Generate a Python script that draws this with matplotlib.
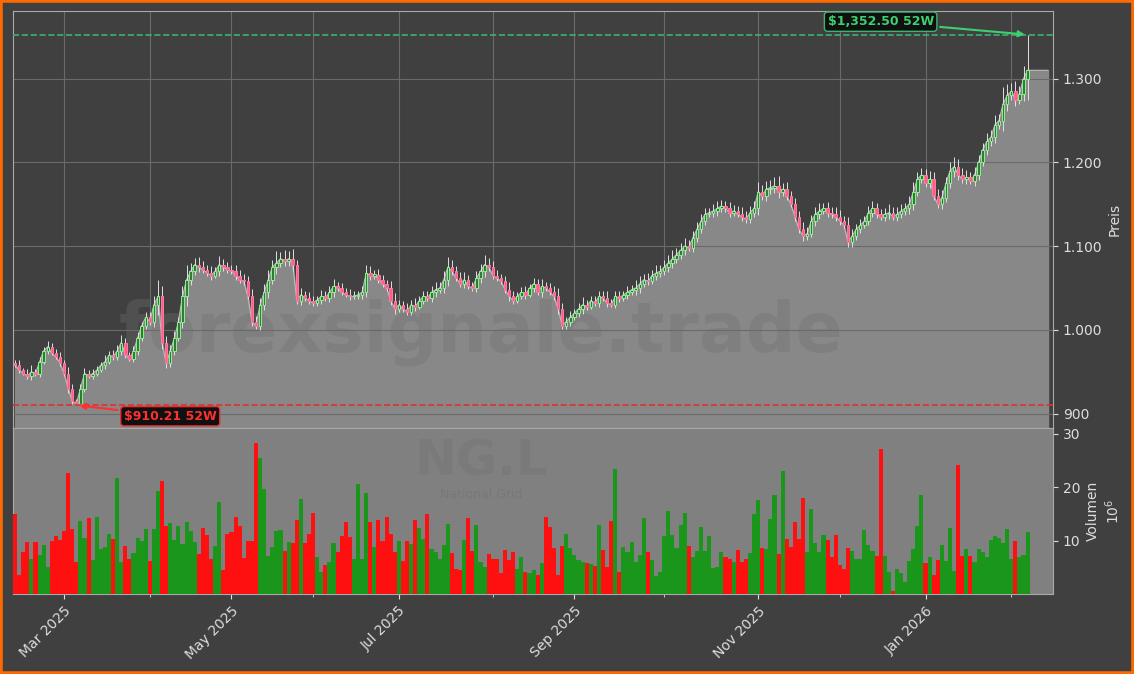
import numpy as np
import pandas as pd
import matplotlib
matplotlib.use("Agg")
import matplotlib.pyplot as plt
from matplotlib.ticker import FuncFormatter, FixedLocator

closes = [
 958,952,948,945,950,948,962,975,980,972,
 968,960,948,930,915,912,930,948,945,
 948,952,958,962,970,968,975,985,970,965,
 975,990,1005,1015,1010,1030,1040,985,960,
 975,990,1010,1040,1060,1070,1078,1075,1072,1068,
 1065,1070,1078,1075,1072,1070,1065,1060,1058,
 1040,1010,1005,1030,1045,1060,1075,1080,1085,1082,
 1085,1078,1035,1042,1038,1035,1032,1036,1040,
 1038,1045,1052,1050,1045,1042,1040,1040,1042,1045,
 1068,1065,1066,1060,1055,1050,1035,1025,1030,
 1025,1022,1030,1028,1035,1040,1038,1045,1048,1050,
 1060,1075,1070,1062,1055,1060,1052,1050,1062,
 1070,1078,1075,1065,1062,1058,1048,1040,1035,1040,
 1045,1042,1050,1055,1045,1052,1050,1045,1040,
 1025,1005,1010,1015,1020,1025,1030,1028,1035,1032,
 1040,1038,1032,1030,1040,1038,1042,1045,1048,
 1050,1055,1060,1058,1065,1068,1070,1075,1080,1085,
 1090,1095,1100,1098,1110,1120,1130,1138,1140,
 1142,1145,1148,1145,1140,1142,1138,1135,1132,1140,
 1145,1165,1160,1168,1170,1172,1165,1168,1160,
 1150,1135,1120,1112,1115,1130,1138,1142,1145,1140,
 1138,1135,1130,1125,1105,1112,1120,1125,1130,
 1140,1145,1138,1135,1138,1140,1135,1138,1142,1145,
 1150,1165,1180,1185,1175,1180,1160,1150,1158,
 1175,1190,1195,1185,1180,1182,1178,1185,1200,1215,
 1225,1230,1245,1250,1270,1280,1285,1275,1282,1300,
 1310]

volumes = [
 15,3.5,7.8,9.7,6.5,9.7,7.3,9.1,5.1,9.9,
 10.8,10.1,11.8,22.6,12.1,6,13.6,10.5,14.2,6.4,
 14.4,8.4,8.8,11.2,10.3,21.7,6,9,6.5,7.7,
 10.5,9.9,12.1,6.2,12.1,19.3,21.1,12.7,13.3,10.1,
 12.7,9.3,13.5,11.8,9.7,7.5,12.3,11,6.5,9,
 17.2,4.5,11.2,11.6,14.4,12.7,6.7,9.9,9.9,28.2,
 25.4,19.6,7.1,8.8,11.8,12,8,9.7,9.5,13.8,
 17.8,9.5,11.2,15.1,6.9,4.1,5.4,6,9.5,7.9,
 10.8,13.5,10.7,6.5,20.6,6.5,18.9,13.5,8.8,13.8,
 9.9,14.4,11.2,7.9,9.9,6.2,9.9,9.3,13.8,12.3,
 10.3,15,8.4,7.9,6.5,9.2,13.1,7.7,4.7,4.5,
 10.1,14.2,8,12.9,6,5,7.5,6.5,6.5,3.9,
 8.2,6.4,7.9,4.7,6.9,4.1,3.9,4.5,3.6,5.8,
 14.4,12.5,
 8.6,3.5,9,11.3,8.7,7.3,6.3,6,5.9,5.7,
 5.2,13,8.3,5,13.6,23.5,4.2,8.8,7.8,9.7,
 6,7.3,14.3,7.8,6.4,3.3,4.1,10.8,15.6,11,
 8.7,12.9,15.1,8.9,7,8.1,12.6,8.1,10.8,4.8,
 5,7.8,7,6.6,6,8.3,6,6.6,7.6,15,
 17.6,8.6,8.4,14,18.5,7.4,23,10.3,8.8,13.4,
 10.3,18,7.8,16,9.6,7.8,11.1,10.1,7,11.1,
 5.5,4.7,8.7,8,6.5,6.5,12,9.2,8,7.2,
 27.2,7.2,4.2,0.6,4.7,4,2.2,6.2,8.4,12.8,
 18.5,5.8,7,3.5,6.3,9.2,6.1,12.3,4.3,24.2,
 7.2,8.4,7.1,6,8.4,7.8,7,10.2,10.8,10.4,
 9.6,12.2,6.6,10,7,7.3,11.7]

wicks = [4,6,3,5,8,4,6,5,7,4, 5,6,4,8,6,3,5,7,4, 6,5,4,8,5,6,7,9,5,4,
         6,8,5,7,6,10,20,12,8, 7,9,6,12,18,10,8,9,7,6, 8,5,10,7,6,5,8,6,7,
         6,9,7,8,10,12,9,14,8,10, 9,12,6,8,5,7,6,5,8, 6,7,9,5,6,5,7,6,5,8,
         10,8,6,7,6,5,8,9,6, 5,7,6,8,5,7,6,8,9,7, 10,12,8,6,7,9,6,5,8,
         9,12,8,7,6,5,7,9,6,5, 6,8,5,7,6,9,5,6,8, 10,7,6,8,5,7,9,6,5,6,
         7,6,8,5,6,7,5,8,6, 10,9,7,8,6,9,7,8,9,10, 8,9,10,7,8,9,8,7,6,
         8,9,7,6,8,7,6,9,7,8, 9,12,8,10,9,11,12,8,9, 6,8,7,9,8,7,9,10,6,8,
         7,9,8,6,10,9,7,8,6, 8,9,7,6,8,10,7,9,8,7, 10,12,9,8,7,10,9,8,9,
         8,10,12,9,8,9,7,10,9,8, 10,9,12,8,20,14,10,12,9,15, 42.5]

first_open = 960
low_52w = 910.21
high_52w = 1352.50
start_date = "2025-02-13"
uk_holidays = ["2025-04-18", "2025-04-21", "2025-05-05", "2025-05-26",
               "2025-08-25", "2025-12-25", "2025-12-26", "2026-01-01"]

n = len(closes)
cday = pd.offsets.CustomBusinessDay(holidays=uk_holidays)
dates = pd.date_range(start_date, periods=n, freq=cday)
c = np.array(closes, float)
o = np.concatenate([[first_open], c[:-1]])
up = c >= o
hi = np.maximum(o, c) + np.array(wicks, float)
lo = np.minimum(o, c) - np.array([w * 0.6 for w in wicks])
ilow = int(np.argmin(c))
lo[ilow] = low_52w
hi[-1] = high_52w
x = np.arange(n)

BG = "#404040"
fig = plt.figure(figsize=(11.34, 6.74), dpi=100, facecolor=BG)
fig.patches.append(plt.Rectangle((0, 0), 1, 1, transform=fig.transFigure,
                                 fill=False, edgecolor="#ff6a00", lw=4))
axp = fig.add_axes([0.0115, 0.365, 0.917, 0.619], facecolor=BG)
axv = fig.add_axes([0.0115, 0.1187, 0.917, 0.2463], facecolor="#808080", sharex=axp)

# price
fx = np.append(x, n + 4)
fy = np.append(c, c[-1])
axp.fill_between(fx, fy, 800, color="#888888", zorder=1)
axp.plot(fx, fy, color="#bbbbbb", lw=0.8, zorder=2)
axp.vlines(x, lo, hi, color="#e0e0e0", lw=0.7, zorder=3)
body = np.abs(c - o)
body = np.where(body < 1.5, 1.5, body)
axp.bar(x[up], body[up], bottom=np.minimum(o, c)[up], width=0.6,
        color="#2e7d32", edgecolor="#90ee90", lw=0.7, zorder=4)
axp.bar(x[~up], body[~up], bottom=np.minimum(o, c)[~up], width=0.6,
        color="#ff5c8a", edgecolor="#ff7aa0", lw=0.7, zorder=4)
axp.axhline(high_52w, color="#3cb371", ls="--", lw=1.2, zorder=5)
axp.axhline(low_52w, color="#e03030", ls="--", lw=1.2, zorder=5)
axp.annotate(f"${high_52w:,.2f} 52W", xy=(n - 1, high_52w), xytext=(n - 37, 1368),
             color="#3cd070", fontsize=9, fontweight="bold", ha="center", va="center",
             bbox=dict(boxstyle="round,pad=0.25", fc="#101010", ec="#3cb371"),
             arrowprops=dict(arrowstyle="-|>", color="#3cd070", lw=1.5), zorder=6)
axp.annotate(f"${low_52w:,.2f} 52W", xy=(ilow, low_52w), xytext=(ilow + 23, 897),
             color="#ff3030", fontsize=9, fontweight="bold", ha="center", va="center",
             bbox=dict(boxstyle="round,pad=0.25", fc="#101010", ec="#e03030"),
             arrowprops=dict(arrowstyle="-|>", color="#ff3030", lw=1.5), zorder=6)
axp.text(0.45, 0.23, "forexsignale.trade", transform=axp.transAxes, fontsize=50,
         fontweight="bold", color="#707070", alpha=0.35, ha="center", va="center", zorder=1.5)
axp.set_ylim(883, 1381)
axp.set_xlim(-0.5, n + 5.2)
axp.yaxis.tick_right()
axp.yaxis.set_label_position("right")
axp.set_ylabel("Preis", color="#dddddd", fontsize=10)
axp.yaxis.set_major_formatter(FuncFormatter(lambda v, p: f"{v:,.0f}".replace(",", ".")))
axp.grid(True, axis="y", color="#6a6a6a", lw=0.8)
axp.tick_params(axis="x", which="both", bottom=False, labelbottom=False)

# volume
vcol = np.where(up, "#1a961a", "#ff1010")
axv.bar(x, volumes, width=1.0, color=vcol, zorder=3)
axv.text(0.45, 0.80, "NG.L", transform=axv.transAxes, fontsize=36, fontweight="bold",
         color="#767676", alpha=0.6, ha="center", va="center", zorder=1)
axv.text(0.45, 0.60, "National Grid", transform=axv.transAxes, fontsize=9,
         color="#767676", alpha=0.8, ha="center", va="center", zorder=1)
axv.set_ylim(0, 31.1)
axv.set_yticks([10, 20, 30])
axv.yaxis.tick_right()
axv.yaxis.set_label_position("right")
axv.set_ylabel("Volumen\n$10^6$", color="#dddddd", fontsize=10)

# month ticks
months = pd.Series(dates.to_period("M"))
first_idx = [i for i in range(1, n) if months[i] != months[i - 1]]
major = [i for i in first_idx if dates[i].month % 2 == 1]
minor = [i for i in first_idx if dates[i].month % 2 == 0]
axv.xaxis.set_major_locator(FixedLocator(major))
axv.xaxis.set_minor_locator(FixedLocator(minor))
axv.set_xticklabels([dates[i].strftime("%b %Y") for i in major], rotation=45, ha="right",
                    rotation_mode="anchor")
for ax in (axp, axv):
    for s in ax.spines.values():
        s.set_color("#aaaaaa")
    ax.tick_params(colors="#dddddd", which="both", labelsize=10)
for i in major + minor:
    axp.axvline(i, color="#6a6a6a", lw=0.8, zorder=0.5)

fig.savefig("out.png", dpi=100, facecolor=BG)
